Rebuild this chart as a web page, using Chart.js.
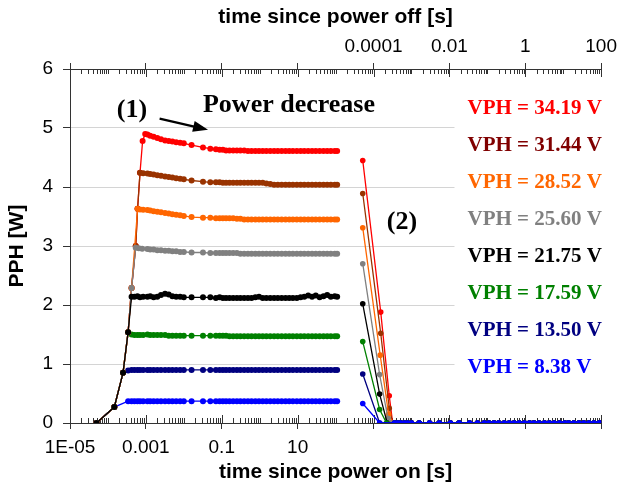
<!DOCTYPE html>
<html>
<head>
<meta charset="utf-8">
<title>PPH</title>
<script src="https://cdn.jsdelivr.net/npm/chart.js"></script>
<style>
  html, body { margin: 0; padding: 0; background: #ffffff; }
  canvas { display: block; }
</style>
</head>
<body>
<canvas id="grafico" width="622" height="486"></canvas>
<script>
//datos: potencia del calentador PPH [W] contra el tiempo

//etiquetas de cada curva (tension del calentador)
var etiquetas = ["VPH = 34.19 V", "VPH = 31.44 V", "VPH = 28.52 V", "VPH = 25.60 V",
                 "VPH = 21.75 V", "VPH = 17.59 V", "VPH = 13.50 V", "VPH = 8.38 V"];

//marcas con texto de los dos ejes de tiempo
var valoresInferiores = [1e-5, 1e-3, 0.1, 10];
var etiquetasInferiores = ["1E-05", "0.001", "0.1", "10"];
var valoresSuperiores = [1e-4, 1e-2, 1, 100];
var etiquetasSuperiores = ["0.0001", "0.01", "1", "100"];

//tiempos de la meseta (s desde el encendido), comunes a todas las curvas
var tMeseta = [1.1e-3, 1.3e-3, 1.6e-3, 2e-3, 2.5e-3, 3.2e-3, 4e-3, 5e-3, 6.3e-3, 8e-3, 1e-2,
  0.016, 0.032, 0.05, 0.07, 0.088, 0.107, 0.13, 0.16, 0.2, 0.25, 0.31, 0.39, 0.49, 0.61, 0.77, 0.96, 1.2, 1.5, 1.9, 2.4,
  3, 3.8, 4.8, 6, 7.5, 9.5, 12, 15, 19, 24, 30, 38, 48, 60, 75, 95, 110];

//VPH = 34.19 V
var tSubida34 = [5e-5, 1.47e-4, 2.5e-4, 3.4e-4, 4.2e-4, 5.4e-4, 6.05e-4, 7e-4, 8.2e-4, 9.6e-4];
var pSubida34 = [0, 0.27, 0.85, 1.54, 2.29, 3.0, 3.63, 4.24, 4.78, 4.9];
var pMeseta34 = [4.89, 4.87, 4.85, 4.83, 4.81, 4.79, 4.78, 4.77, 4.76, 4.75, 4.74,
  4.71, 4.67, 4.65, 4.64, 4.63, 4.63, 4.62, 4.62, 4.62, 4.62, 4.62, 4.62, 4.61, 4.61, 4.61, 4.61, 4.61, 4.61, 4.61, 4.61,
  4.61, 4.61, 4.61, 4.61, 4.61, 4.61, 4.61, 4.61, 4.61, 4.61, 4.61, 4.61, 4.61, 4.61, 4.61, 4.61, 4.61];
var tApagado34 = [5.2e-5, 1.55e-4, 2.6e-4, 3.2e-4];
var pApagado34 = [4.45, 1.88, 0.46, 0];

//VPH = 31.44 V
var tSubida31 = [5e-5, 1.47e-4, 2.5e-4, 3.4e-4, 4.2e-4, 5.4e-4, 6.05e-4, 7e-4, 8.5e-4];
var pSubida31 = [0, 0.27, 0.85, 1.54, 2.29, 3.0, 3.63, 4.24, 4.235];
var pMeseta31 = [4.23, 4.22, 4.21, 4.20, 4.19, 4.18, 4.17, 4.16, 4.15, 4.14, 4.13,
  4.11, 4.09, 4.08, 4.08, 4.08, 4.07, 4.07, 4.07, 4.07, 4.07, 4.07, 4.07, 4.07, 4.07, 4.07, 4.07, 4.07, 4.06, 4.05, 4.04,
  4.04, 4.04, 4.04, 4.04, 4.04, 4.04, 4.04, 4.04, 4.04, 4.04, 4.04, 4.04, 4.04, 4.04, 4.04, 4.04, 4.04];
var tApagado31 = [5.2e-5, 1.55e-4, 2.6e-4, 3.2e-4];
var pApagado31 = [3.89, 1.52, 0.25, 0];

//VPH = 28.52 V
var tSubida28 = [5e-5, 1.47e-4, 2.5e-4, 3.4e-4, 4.2e-4, 6.05e-4, 7e-4, 8.5e-4];
var pSubida28 = [0, 0.27, 0.85, 1.54, 2.29, 3.63, 3.62, 3.615];
var pMeseta28 = [3.61, 3.60, 3.59, 3.58, 3.57, 3.56, 3.55, 3.54, 3.53, 3.52, 3.51,
  3.49, 3.48, 3.48, 3.47, 3.47, 3.47, 3.47, 3.47, 3.47, 3.46, 3.46, 3.45, 3.45, 3.45, 3.45, 3.45, 3.45, 3.45, 3.45, 3.45,
  3.45, 3.45, 3.45, 3.45, 3.45, 3.45, 3.45, 3.45, 3.45, 3.45, 3.45, 3.45, 3.45, 3.45, 3.45, 3.45, 3.45];
var tApagado28 = [5.2e-5, 1.5e-4, 2.5e-4, 3.2e-4];
var pApagado28 = [3.31, 1.15, 0.15, 0];

//VPH = 25.60 V
var tSubida25 = [5e-5, 1.47e-4, 2.5e-4, 3.4e-4, 4.2e-4, 5.4e-4, 6.5e-4, 8e-4];
var pSubida25 = [0, 0.27, 0.85, 1.54, 2.29, 2.97, 2.96, 2.955];
var pMeseta25 = [2.95, 2.94, 2.94, 2.93, 2.93, 2.92, 2.92, 2.91, 2.91, 2.90, 2.90,
  2.89, 2.89, 2.88, 2.88, 2.88, 2.88, 2.88, 2.88, 2.88, 2.88, 2.87, 2.87, 2.87, 2.87, 2.87, 2.87, 2.87, 2.87, 2.87, 2.87,
  2.87, 2.87, 2.87, 2.87, 2.87, 2.87, 2.87, 2.87, 2.87, 2.87, 2.87, 2.87, 2.87, 2.87, 2.87, 2.87, 2.87];
var tApagado25 = [5.2e-5, 1.45e-4, 2.4e-4, 3.2e-4];
var pApagado25 = [2.70, 0.82, 0.08, 0];

//VPH = 21.75 V
var tSubida21 = [5e-5, 1.47e-4, 2.5e-4, 3.4e-4, 4.2e-4, 5e-4, 6e-4, 7e-4, 8.5e-4];
var pSubida21 = [0, 0.27, 0.85, 1.54, 2.14, 2.14, 2.15, 2.13, 2.14];
var pMeseta21 = [2.14, 2.15, 2.13, 2.14, 2.17, 2.19, 2.18, 2.15, 2.14, 2.14, 2.13,
  2.13, 2.13, 2.13, 2.12, 2.13, 2.12, 2.12, 2.12, 2.12, 2.12, 2.12, 2.12, 2.12, 2.12, 2.13, 2.14, 2.12, 2.12, 2.12, 2.12,
  2.12, 2.12, 2.12, 2.12, 2.12, 2.12, 2.13, 2.14, 2.16, 2.14, 2.16, 2.13, 2.15, 2.17, 2.14, 2.15, 2.14];
var tApagado21 = [5.2e-5, 1.45e-4, 2.3e-4];
var pApagado21 = [2.02, 0.49, 0];

//VPH = 17.59 V
var tSubida17 = [5e-5, 1.47e-4, 2.5e-4, 3.4e-4, 4.2e-4, 5e-4, 6e-4, 7e-4, 8.5e-4];
var pSubida17 = [0, 0.27, 0.85, 1.54, 1.50, 1.49, 1.49, 1.49, 1.49];
var pMeseta17 = [1.50, 1.49, 1.49, 1.49, 1.49, 1.49, 1.48, 1.48, 1.48, 1.48, 1.48,
  1.48, 1.48, 1.48, 1.48, 1.48, 1.48, 1.48, 1.47, 1.47, 1.47, 1.47, 1.47, 1.47, 1.47, 1.47, 1.47, 1.47, 1.47, 1.47, 1.47,
  1.47, 1.47, 1.47, 1.47, 1.47, 1.47, 1.47, 1.47, 1.47, 1.47, 1.47, 1.47, 1.47, 1.47, 1.47, 1.47, 1.47];
var tApagado17 = [5.2e-5, 1.45e-4, 2.2e-4];
var pApagado17 = [1.38, 0.23, 0];

//VPH = 13.50 V
var tSubida13 = [5e-5, 1.47e-4, 2.5e-4, 3.4e-4, 4.2e-4, 5e-4, 6e-4, 7e-4, 8.5e-4];
var pSubida13 = [0, 0.27, 0.85, 0.89, 0.90, 0.90, 0.90, 0.90, 0.90];
var pMeseta13 = [0.90, 0.90, 0.90, 0.90, 0.90, 0.90, 0.90, 0.90, 0.90, 0.90, 0.90,
  0.90, 0.90, 0.90, 0.90, 0.90, 0.90, 0.90, 0.90, 0.90, 0.90, 0.90, 0.90, 0.90, 0.90, 0.90, 0.90, 0.90, 0.90, 0.90, 0.90,
  0.90, 0.90, 0.90, 0.90, 0.90, 0.90, 0.90, 0.90, 0.90, 0.90, 0.90, 0.90, 0.90, 0.90, 0.90, 0.90, 0.90];
var tApagado13 = [5.2e-5, 1.45e-4];
var pApagado13 = [0.83, 0];

//VPH = 8.38 V
var tSubida8 = [5e-5, 1.47e-4, 3.4e-4, 4.2e-4, 5e-4, 6e-4, 7e-4, 8.5e-4];
var pSubida8 = [0, 0.27, 0.37, 0.37, 0.37, 0.37, 0.37, 0.37];
var pMeseta8 = [0.37, 0.37, 0.37, 0.37, 0.37, 0.37, 0.37, 0.37, 0.37, 0.37, 0.37,
  0.37, 0.37, 0.37, 0.37, 0.37, 0.37, 0.37, 0.37, 0.37, 0.37, 0.37, 0.37, 0.37, 0.37, 0.37, 0.37, 0.37, 0.37, 0.37, 0.37,
  0.37, 0.37, 0.37, 0.37, 0.37, 0.37, 0.37, 0.37, 0.37, 0.37, 0.37, 0.37, 0.37, 0.37, 0.37, 0.37, 0.37];
var tApagado8 = [5.2e-5, 1.45e-4];
var pApagado8 = [0.33, 0];

//cola en cero despues del apagado (s desde el apagado), igual para todas las curvas
var tCola = [3.6e-4, 4.3e-4, 5.2e-4, 6.5e-4, 8e-4, 1e-3, 1.6e-3, 3e-3, 5.4e-3, 0.0106, 0.018, 0.034, 0.055, 0.083,
  0.11, 0.15, 0.2, 0.28, 0.38, 0.51, 0.69, 0.95, 1.3, 1.7, 2.3, 3.2, 4.3, 5.8, 8, 11, 14, 19, 26, 35, 48, 65, 88, 100];
var pCola = [0, 0, 0, 0, 0, 0, 0, 0, 0, 0, 0, 0, 0, 0,
  0, 0, 0, 0, 0, 0, 0, 0, 0, 0, 0, 0, 0, 0, 0, 0, 0, 0, 0, 0, 0, 0, 0, 0];

//se juntan los arrays de cada curva en el mismo orden que las etiquetas
var tSubidas = [tSubida34, tSubida31, tSubida28, tSubida25, tSubida21, tSubida17, tSubida13, tSubida8];
var pSubidas = [pSubida34, pSubida31, pSubida28, pSubida25, pSubida21, pSubida17, pSubida13, pSubida8];
var pMesetas = [pMeseta34, pMeseta31, pMeseta28, pMeseta25, pMeseta21, pMeseta17, pMeseta13, pMeseta8];
var tApagados = [tApagado34, tApagado31, tApagado28, tApagado25, tApagado21, tApagado17, tApagado13, tApagado8];
var pApagados = [pApagado34, pApagado31, pApagado28, pApagado25, pApagado21, pApagado17, pApagado13, pApagado8];

//estilos
var colores = ["#ff0000", "#993300", "#ff6600", "#808080", "#000000", "#008000", "#000080", "#0000ff"];
var coloresTexto = ["#ff0000", "#800000", "#ff6600", "#808080", "#000000", "#008000", "#000080", "#0000ff"];
var ordenEncendido = [4, 3, 2, 1, 0, 5, 6, 7];   //0 = se dibuja encima
var ordenApagado = [17, 16, 15, 14, 13, 12, 11, 10];
var colorEje = "#333333";
var fuenteSerif = '"Liberation Serif", "Times New Roman", serif';

//convierte dos arrays en puntos {x, y}
function puntos(tiempos, valores) {
  return tiempos.map(function (t, k) { return { x: t, y: valores[k] }; });
}

//true si el valor es una decada con exponente de la paridad pedida
function esMayor(valor, paridad) {
  var e = Math.log10(valor);
  if (Math.abs(e - Math.round(e)) > 1e-6) return false;
  return Math.abs(Math.round(e)) % 2 === paridad;
}

//texto de una marca del eje (vacio si no lleva)
function etiquetaDe(valor, valores, textos) {
  for (var i = 0; i < valores.length; i++) {
    if (Math.abs(Math.log10(valor) - Math.log10(valores[i])) < 1e-6) return textos[i];
  }
  return "";
}

//solo se dejan las marcas 1..9 de cada decada
function limpiarMarcas(escala) {
  escala.ticks = escala.ticks.filter(function (tick) {
    var e = Math.floor(Math.log10(tick.value) + 1e-9);
    var m = tick.value / Math.pow(10, e);
    return Math.abs(m - Math.round(m)) < 1e-6;
  });
}

//posicion de la leyenda a partir de las escalas
function posicionLeyenda(chart) {
  var sx = chart.scales.x;
  var sy = chart.scales.y;
  return { x: sx.getPixelForValue(3e5), y0: sy.getPixelForValue(5.33), y1: sy.getPixelForValue(0.94) };
}

//plugin para las marcas hacia dentro, la leyenda y las anotaciones
var marcasYTextos = {
  id: 'marcasYTextos',
  beforeDatasetsDraw: function (chart) {
    var ctx = chart.ctx;
    var area = chart.chartArea;
    ctx.save();
    ctx.strokeStyle = colorEje;
    ctx.lineWidth = 1;
    [['x', 1, area.bottom, -1], ['xTop', 0, area.top, 1]].forEach(function (d) {
      var escala = chart.scales[d[0]];
      escala.ticks.forEach(function (tick) {
        var px = Math.round(escala.getPixelForValue(tick.value)) + 0.5;
        if (px < area.left + 2 || px > area.right + 2) return;
        var largo = esMayor(tick.value, d[1]) ? 8 : 5;
        ctx.beginPath();
        ctx.moveTo(px, d[2]);
        ctx.lineTo(px, d[2] + d[3] * largo);
        ctx.stroke();
      });
    });
    //fondo blanco de la leyenda, tapa la rejilla
    var caja = posicionLeyenda(chart);
    ctx.fillStyle = '#ffffff';
    ctx.fillRect(caja.x - 13, caja.y0 - 18, area.right - caja.x + 14, caja.y1 - caja.y0 + 36);
    ctx.restore();
  },
  afterDatasetsDraw: function (chart) {
    var ctx = chart.ctx;
    var sx = chart.scales.x;
    var sy = chart.scales.y;
    ctx.save();
    //leyenda
    var caja = posicionLeyenda(chart);
    ctx.font = 'bold 21px ' + fuenteSerif;
    ctx.textAlign = 'left';
    ctx.textBaseline = 'middle';
    etiquetas.forEach(function (texto, i) {
      ctx.fillStyle = coloresTexto[i];
      ctx.fillText(texto, caja.x, caja.y0 + i * (caja.y1 - caja.y0) / (etiquetas.length - 1));
    });
    //anotaciones
    ctx.fillStyle = '#000000';
    ctx.font = 'bold 26px ' + fuenteSerif;
    ctx.textAlign = 'center';
    ctx.fillText('(1)', sx.getPixelForValue(4.3e-4), sy.getPixelForValue(5.30));
    ctx.fillText('(2)', sx.getPixelForValue(5600), sy.getPixelForValue(3.41));
    ctx.textAlign = 'left';
    ctx.fillText('Power decrease', sx.getPixelForValue(0.032), sy.getPixelForValue(5.385));
    //flecha
    var x0 = sx.getPixelForValue(2.3e-3), y0 = sy.getPixelForValue(5.16);
    var x1 = sx.getPixelForValue(0.0435), y1 = sy.getPixelForValue(4.97);
    var ang = Math.atan2(y1 - y0, x1 - x0);
    ctx.strokeStyle = '#000000';
    ctx.lineWidth = 2.2;
    ctx.beginPath();
    ctx.moveTo(x0, y0);
    ctx.lineTo(x1 - 12 * Math.cos(ang), y1 - 12 * Math.sin(ang));
    ctx.stroke();
    ctx.beginPath();
    ctx.moveTo(x1, y1);
    ctx.lineTo(x1 - 15 * Math.cos(ang) + 5.5 * Math.sin(ang), y1 - 15 * Math.sin(ang) - 5.5 * Math.cos(ang));
    ctx.lineTo(x1 - 15 * Math.cos(ang) - 5.5 * Math.sin(ang), y1 - 15 * Math.sin(ang) + 5.5 * Math.cos(ang));
    ctx.closePath();
    ctx.fill();
    ctx.restore();
  }
};

function generarGrafico() {
  var canvas = document.getElementById("grafico");
  var ctx = canvas.getContext("2d");
  Chart.defaults.font.family = '"Liberation Sans", Arial, sans-serif';
  Chart.defaults.color = '#000000';

  var datasets = [];
  for (var i = 0; i < etiquetas.length; i++) {
    //tramo con el calentador encendido
    datasets.push({
      label: etiquetas[i],
      data: puntos(tSubidas[i], pSubidas[i]).concat(puntos(tMeseta, pMesetas[i])),
      xAxisID: 'x',
      yAxisID: 'y',
      showLine: true,
      borderColor: colores[i],
      backgroundColor: colores[i],
      borderWidth: 1.3,
      pointStyle: 'circle',
      pointRadius: 3,
      pointBorderWidth: 0,
      order: ordenEncendido[i]
    });
    //tramo despues del apagado (eje superior)
    datasets.push({
      label: etiquetas[i] + ' off',
      data: puntos(tApagados[i], pApagados[i]).concat(puntos(tCola, pCola)),
      xAxisID: 'xTop',
      yAxisID: 'y',
      showLine: true,
      borderColor: colores[i],
      backgroundColor: colores[i],
      borderWidth: 1.3,
      pointStyle: 'circle',
      pointRadius: 2.8,
      pointBorderWidth: 0,
      order: ordenApagado[i]
    });
  }

  var grafico = new Chart(ctx, {
    type: 'scatter',
    data: { datasets: datasets },
    plugins: [marcasYTextos],
    options: {
      responsive: false,
      animation: false,
      devicePixelRatio: 1,
      events: [],
      layout: { padding: { left: 0, right: 19, top: 0, bottom: 0 } },
      plugins: { legend: { display: false }, tooltip: { enabled: false } },
      scales: {
        x: {
          type: 'logarithmic',
          position: 'bottom',
          min: 1e-5,
          max: 1e9,
          afterBuildTicks: limpiarMarcas,
          afterFit: function (s) { s.height = 63; },
          border: { display: true, color: colorEje, width: 1 },
          grid: {
            drawOnChartArea: false,
            tickLength: 6,
            tickColor: function (c) { return c.tick && esMayor(c.tick.value, 1) ? colorEje : 'rgba(0,0,0,0)'; }
          },
          ticks: {
            autoSkip: false, maxRotation: 0, padding: 7,
            font: { size: 19 }, color: '#000000',
            callback: function (v) { return etiquetaDe(v, valoresInferiores, etiquetasInferiores); }
          },
          title: {
            display: true, text: 'time since power on [s]', color: '#000000',
            font: { size: 21, weight: 'bold' }, padding: { top: 0, bottom: 1 }
          }
        },
        xTop: {
          type: 'logarithmic',
          position: 'top',
          min: 1e-12,
          max: 100,
          afterBuildTicks: limpiarMarcas,
          afterFit: function (s) { s.height = 69; },
          border: { display: true, color: colorEje, width: 1 },
          grid: {
            drawOnChartArea: false,
            tickLength: 6,
            tickColor: function (c) { return c.tick && esMayor(c.tick.value, 0) ? colorEje : 'rgba(0,0,0,0)'; }
          },
          ticks: {
            autoSkip: false, maxRotation: 0, padding: 5,
            font: { size: 19 }, color: '#000000',
            callback: function (v) { return etiquetaDe(v, valoresSuperiores, etiquetasSuperiores); }
          },
          title: {
            display: true, text: 'time since power off [s]', color: '#000000',
            font: { size: 21, weight: 'bold' }, padding: { top: 5, bottom: 0 }
          }
        },
        y: {
          type: 'linear',
          min: 0,
          max: 6,
          afterFit: function (s) { s.width = 70; },
          border: { display: true, color: colorEje, width: 1 },
          grid: {
            color: function (c) { return c.tick && (c.tick.value === 0 || c.tick.value === 6) ? 'rgba(0,0,0,0)' : '#d4d4d4'; },
            tickColor: colorEje,
            tickLength: 7
          },
          ticks: { stepSize: 1, padding: 10, font: { size: 19 }, color: '#000000' },
          title: {
            display: true, text: 'PPH [W]', color: '#000000',
            font: { size: 21, weight: 'bold' }, padding: { top: 5, bottom: 0 }
          }
        }
      }
    }
  });
}

generarGrafico();
</script>
</body>
</html>
